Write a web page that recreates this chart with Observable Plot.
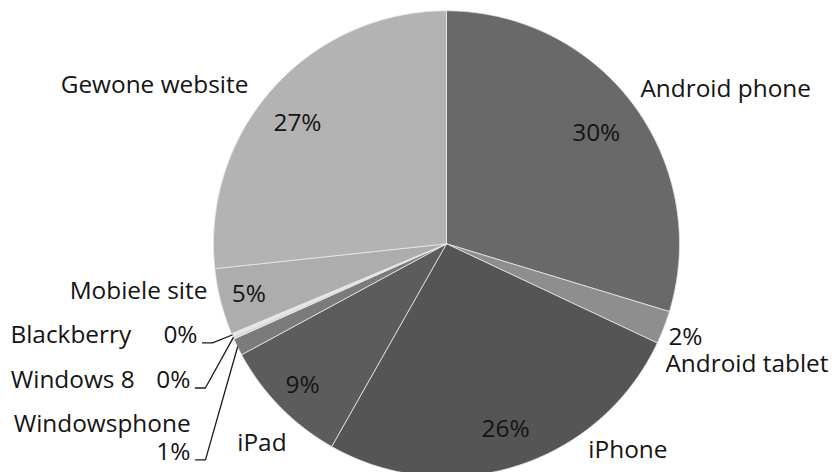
<!DOCTYPE html>
<html><head><meta charset="utf-8">
<script src="https://cdn.jsdelivr.net/npm/d3@7"></script>
<script src="https://cdn.jsdelivr.net/npm/@observablehq/plot@0.6"></script>
<style>html,body{margin:0;padding:0;background:#fff;overflow:hidden}</style>
</head><body><div id="chart"></div>
<script>
// Data
const names = ["Android phone","Android tablet","iPhone","iPad","Windowsphone","Windows 8","Blackberry","Mobiele site","Gewone website"];
const shares = [29.7, 2.3, 26.2, 8.9, 1.2, 0.2, 0.2, 4.6, 26.7];
const colors = ["#696969","#8e8e8e","#555555","#5c5c5c","#7b7b7b","#d8d8d8","#e6e6e6","#adadad","#b3b3b3"];

// Label layout (polar: degrees clockwise from top, radius in pie radii; null = slice middle)
const nameAngles = [51.4, 118.8, 145.5, 226.4, 234.8, 252.6, 258.2, 258.8, 298.5];
const nameRadii = [1.065, 1.072, 1.075, 1.24, 1.344, 1.96, 1.912, 1.046, 1.426];
const nameAnchors = ["start","start","start","start","end","start","start","end","middle"];
const pctAngles = [null, 112.8, null, null, 230.9, 242.0, 249.9, null, 309.0];
const pctRadii = [0.80, 1.033, 0.836, 0.866, 1.416, 1.245, 1.138, 0.876, 0.823];
const pctAnchors = ["middle","start","middle","middle","end","end","end","middle","middle"];
const leaderSlices = ["Windowsphone","Windows 8","Blackberry"];

const R = 233, CX = 446, CY = 243.3;
const total = d3.sum(shares);
let acc = 0;
const slices = names.map((name, i) => {
  const a0 = acc / total * 360; acc += shares[i]; const a1 = acc / total * 360;
  return {name, share: shares[i], a0, a1, mid: (a0 + a1) / 2, i};
});
const rad = d => d * Math.PI / 180;
const polar = (deg, r) => ({x: r * Math.sin(rad(deg)), y: r * Math.cos(rad(deg))});

const piePts = slices.flatMap(s => {
  const n = Math.max(2, Math.ceil((s.a1 - s.a0) / 0.25));
  const pts = [{name: s.name, x: 0, y: 0}];
  for (let k = 0; k <= n; k++) pts.push({name: s.name, ...polar(s.a0 + (s.a1 - s.a0) * k / n, 1)});
  pts.push({name: s.name, x: 0, y: 0});
  return pts;
});

const labels = [];
slices.forEach(s => {
  const i = s.i;
  labels.push({text: s.name, anchor: nameAnchors[i], ...polar(nameAngles[i] ?? s.mid, nameRadii[i])});
  labels.push({text: Math.round(s.share / total * 100) + "%", anchor: pctAnchors[i], ...polar(pctAngles[i] ?? s.mid, pctRadii[i])});
});

const leaderPts = slices.filter(s => leaderSlices.includes(s.name)).flatMap(s => {
  const p = polar(pctAngles[s.i] ?? s.mid, pctRadii[s.i]);
  const e = polar(s.mid, 1);
  return [
    {name: s.name, x: p.x + 5 / R, y: p.y - 8 / R},
    {name: s.name, x: p.x + 15 / R, y: p.y - 8 / R},
    {name: s.name, x: e.x, y: e.y}
  ];
});

const textOpts = a => ({x: "x", y: "y", text: "text", textAnchor: a, fontSize: 24.4, fill: "#141414"});

const chart = Plot.plot({
  width: 835, height: 472, margin: 0,
  style: {fontFamily: "'Open Sans', sans-serif", background: "#fff", overflow: "hidden"},
  x: {domain: [-1, 1], range: [CX - R, CX + R], axis: null},
  y: {domain: [-1, 1], range: [CY + R, CY - R], axis: null},
  color: {domain: names, range: colors},
  marks: [
    Plot.line(piePts, {x: "x", y: "y", z: "name", fill: "name", stroke: "#e8e8e8", strokeWidth: 0.8, curve: "linear"}),
    Plot.line(leaderPts, {x: "x", y: "y", z: "name", stroke: "#1a1a1a", strokeWidth: 1.3}),
    Plot.text(labels.filter(d => d.anchor === "start"), textOpts("start")),
    Plot.text(labels.filter(d => d.anchor === "middle"), textOpts("middle")),
    Plot.text(labels.filter(d => d.anchor === "end"), textOpts("end"))
  ]
});
document.getElementById("chart").appendChild(chart);
</script></body></html>
